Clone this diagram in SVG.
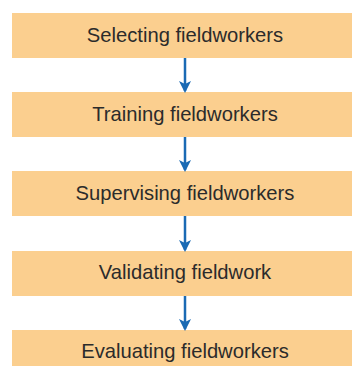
<svg xmlns="http://www.w3.org/2000/svg" width="352" height="366" viewBox="0 0 352 366">
<style>
.box{fill:#FBCF8F}
.lbl{font-family:"Liberation Sans",Arial,sans-serif;font-size:20.2px;fill:#2b2b2b;text-anchor:middle;dominant-baseline:central}
.conn{stroke:#1A6AB4;stroke-width:2.5;fill:none}
</style>
<defs>
<marker id="ah" markerWidth="12" markerHeight="14" refX="10" refY="7" orient="auto" markerUnits="userSpaceOnUse">
<path d="M0,1 L12,7 L0,13 L3,7 Z" fill="#1A6AB4"/>
</marker>
</defs>
<rect width="352" height="366" fill="#ffffff"/>
<g id="node1"><rect class="box" x="12" y="13" width="340" height="45"/><text class="lbl" x="185" y="35">Selecting fieldworkers</text></g>
<g id="node2"><rect class="box" x="12" y="92" width="340" height="45"/><text class="lbl" x="185" y="114">Training fieldworkers</text></g>
<g id="node3"><rect class="box" x="12" y="171" width="340" height="45"/><text class="lbl" x="185" y="193">Supervising fieldworkers</text></g>
<g id="node4"><rect class="box" x="12" y="251" width="340" height="45"/><text class="lbl" x="185" y="272">Validating fieldwork</text></g>
<g id="node5"><rect class="box" x="12" y="330" width="340" height="36"/><text class="lbl" x="185" y="351">Evaluating fieldworkers</text></g>
<g id="connectors">
<line class="conn" x1="185" y1="58" x2="185" y2="91" marker-end="url(#ah)"/>
<line class="conn" x1="185" y1="137" x2="185" y2="170" marker-end="url(#ah)"/>
<line class="conn" x1="185" y1="216" x2="185" y2="250" marker-end="url(#ah)"/>
<line class="conn" x1="185" y1="296" x2="185" y2="329" marker-end="url(#ah)"/>
</g>
</svg>
